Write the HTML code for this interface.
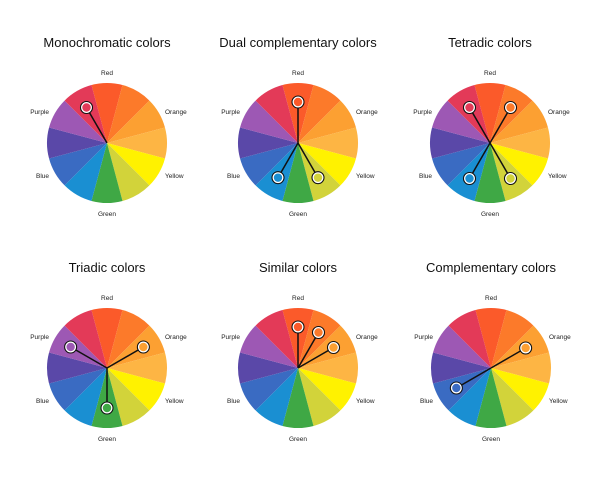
<!DOCTYPE html>
<html><head><meta charset="utf-8">
<style>
html,body{margin:0;padding:0;background:#fff;width:600px;height:480px;overflow:hidden}
svg{display:block;font-family:"Liberation Sans",sans-serif}
</style></head><body>
<svg id="c" width="600" height="480" viewBox="0 0 600 480"></svg>
<script>
const segmentColors=["#fb5a2a","#fc7a2a","#fca032","#fdb544","#fff200","#d2d33a","#3fa845","#1a8fd2","#3a6bc2","#5a48a8","#9d58b4","#e33a58"];
const wheelTitles=["Monochromatic colors","Dual complementary colors","Tetradic colors","Triadic colors","Similar colors","Complementary colors"];
const markerAngles=[[330],[0,210,150],[330,30,210,150],[300,60,180],[0,30,60],[60,240]];
const markerRadii=[[41],[41,40,40],[41,41,41,41],[42,42,40],[41,41,41],[40,40]];
const wheelCenters=[[107,143],[298,143],[490,143],[107,368],[298,368],[491,368]];
const R=60;
const svg=document.getElementById('c');
const NS="http://www.w3.org/2000/svg";
function mk(t,a,p){const e=document.createElementNS(NS,t);for(const k in a)e.setAttribute(k,a[k]);(p||svg).appendChild(e);return e;}
function pt(cx,cy,ang,r){const a=ang*Math.PI/180;return [cx+r*Math.sin(a),cy-r*Math.cos(a)];}
function segIndex(ang){return Math.round(((ang%360)+360)%360/30)%12;}
const labels=[["Red",0,0,-68,"middle"],["Orange",0,58,-29,"start"],["Yellow",0,58,35,"start"],["Green",0,0,73,"middle"],["Blue",0,-58,35,"end"],["Purple",0,-58,-29,"end"]];
wheelCenters.forEach((c,w)=>{
  const [cx,cy]=c;
  const g=mk('g',{});
  
  
  const t=mk('text',{x:cx,y:cy-96,'text-anchor':'middle','font-size':'13','fill':'#111'},g);
  t.textContent=wheelTitles[w];
  
  
  segmentColors.forEach((col,i)=>{
    const a0=i*30-15,a1=i*30+15;
    const p0=pt(cx,cy,a0,R),p1=pt(cx,cy,a1,R);
    const p=mk('path',{d:`M${cx},${cy}L${p0[0]},${p0[1]}A${R},${R} 0 0 1 ${p1[0]},${p1[1]}Z`,fill:col},g);
    
    
  });
  labels.forEach(l=>{
    const tx=mk('text',{x:cx+l[2],y:cy+l[3],'text-anchor':l[4],'font-size':'6.5','fill':'#222'},g);
    tx.textContent=l[0];
    
    
  });
  markerAngles[w].forEach((ang,k)=>{
    const r=markerRadii[w][k];
    const p=pt(cx,cy,ang,r);
    const ln=mk('line',{x1:cx,y1:cy,x2:p[0],y2:p[1],stroke:'#111','stroke-width':'1.5'},g);
    
    
  });
  markerAngles[w].forEach((ang,k)=>{
    const r=markerRadii[w][k];
    const p=pt(cx,cy,ang,r);
    const m=mk('circle',{cx:p[0],cy:p[1],r:5,fill:segmentColors[segIndex(ang)],stroke:'#fff','stroke-width':'1.6'},g);
    
    
    const o=mk('circle',{cx:p[0],cy:p[1],r:6,fill:'none',stroke:'#111','stroke-width':'1.1'},g);
    
    
  });
});
</script>
</body></html>
